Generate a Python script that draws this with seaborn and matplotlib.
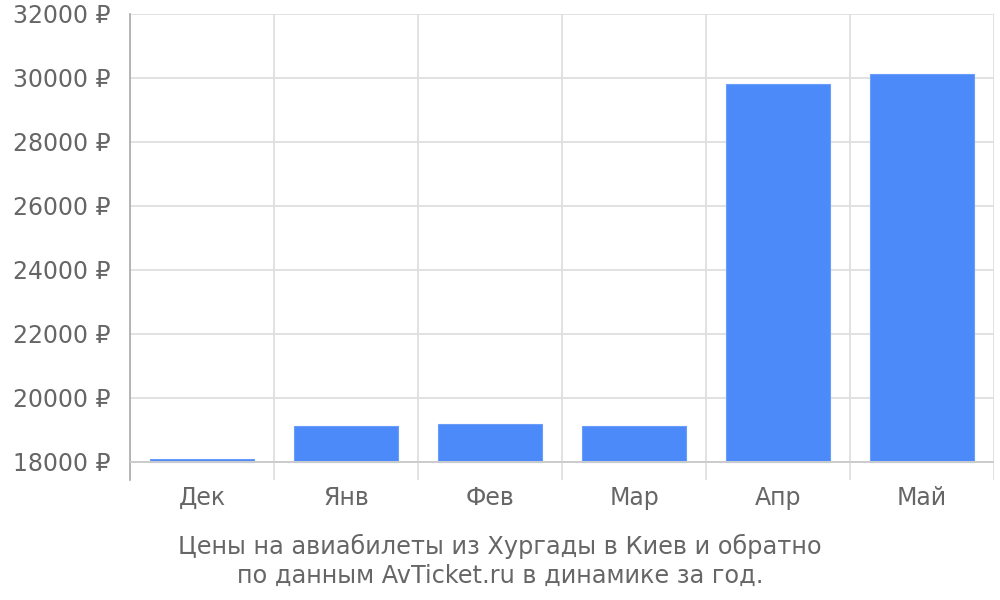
import numpy as np
import pandas as pd
import seaborn as sns
from matplotlib import pyplot as plt
from matplotlib.ticker import FixedLocator

# %% data
months = ['Дек', 'Янв', 'Фев', 'Мар', 'Апр', 'Май']
prices = [18100, 19140, 19190, 19120, 29810, 30110]
yTicks = [18000, 20000, 22000, 24000, 26000, 28000, 30000, 32000]
title = 'Цены на авиабилеты из Хургады в Киев и обратно\nпо данным AvTicket.ru в динамике за год.'

dfData = pd.DataFrame({'Month': months, 'Price': prices})

# %% plot
sns.set_style('white')
plt.rcParams['font.family'] = ['DejaVu Sans']

TxtColor = '#666666'
GridColor = '#dddddd'
BarColor = '#4d8af9'
yBase = 18000

fig = plt.figure(figsize=(10, 6), dpi=100)
ax = fig.add_axes([0.13, 0.2, 0.864, 0.7767])

sns.barplot(data=dfData, x='Month', y='Price', color=BarColor,
            width=0.72, saturation=1, ax=ax, zorder=3)

# bars start at the base line, not at zero
for p in ax.patches:
    p.set_height(p.get_height() - yBase)
    p.set_y(yBase)
    p.set_edgecolor('#6a9df9')
    p.set_linewidth(0.8)

ax.set_xlim(-0.5, len(months) - 0.5)
ax.set_ylim(yBase - 562.5, 32000)
ax.set_yticks(yTicks)
ax.set_yticklabels([f'{v} ₽' for v in yTicks])
ax.xaxis.set_minor_locator(FixedLocator(np.arange(len(months) + 1) - 0.5))

ax.grid(True, axis='y', which='major', color=GridColor, linewidth=1.2, zorder=0)
ax.grid(True, axis='x', which='minor', color=GridColor, linewidth=1.2, zorder=0)
ax.axhline(yBase, color='#cccccc', linewidth=1.4, zorder=4)

for s in ['top', 'right', 'bottom']:
    ax.spines[s].set_visible(False)
ax.spines['left'].set_color('#aaaaaa')
ax.spines['left'].set_linewidth(1.2)

ax.tick_params(axis='y', length=13, width=1.2, color=GridColor, pad=1,
               labelsize=17, labelcolor=TxtColor)
ax.tick_params(axis='x', which='major', length=0, pad=4,
               labelsize=17, labelcolor=TxtColor)
ax.tick_params(axis='x', which='minor', length=0)
ax.set_xlabel('')
ax.set_ylabel('')

fig.text(0.5, 1 - 561 / 600, title, ha='center', va='center',
         fontsize=17.3, color=TxtColor, linespacing=1.22)

fig.savefig('out.png', dpi=100)
